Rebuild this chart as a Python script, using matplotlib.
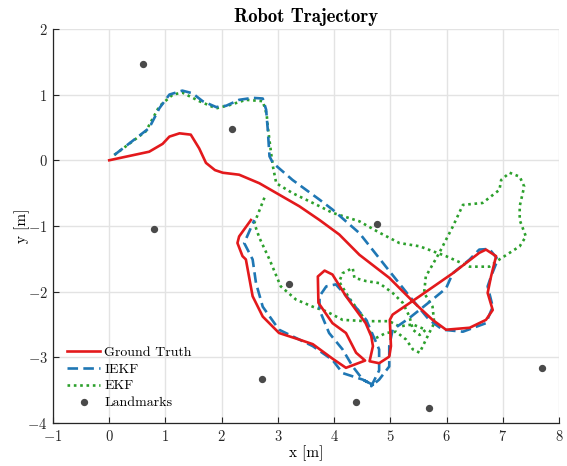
import matplotlib
matplotlib.use("Agg")
import matplotlib.pyplot as plt

plt.rcParams['font.family'] = 'serif'
plt.rcParams['font.serif'] = ['cmr10']
plt.rcParams['mathtext.fontset'] = 'cm'
plt.rcParams['axes.formatter.use_mathtext'] = True
plt.rcParams['axes.unicode_minus'] = False

# ground truth
gt_x = [0.00, 0.71, 0.95, 1.07, 1.25, 1.45, 1.60, 1.72, 1.88, 2.02, 2.31, 2.67, 3.38, 3.74,
        4.09, 4.45, 4.98, 5.40, 5.75, 5.99, 6.41, 6.70, 6.82, 6.73, 6.79, 6.88, 6.70,
        6.58, 6.11, 5.52, 5.04, 4.99, 5.01, 4.98, 4.80, 4.63, 4.69, 4.66, 4.56, 4.21,
        3.97, 3.83, 3.71, 3.72, 3.97, 4.21, 4.39, 4.55, 4.21, 3.97, 3.62, 3.38, 3.02,
        2.73, 2.55, 2.43, 2.37, 2.28, 2.31, 2.52]
gt_y = [0.00, 0.13, 0.25, 0.36, 0.41, 0.39, 0.18, -0.04, -0.15, -0.19, -0.22, -0.35,
        -0.70, -0.91, -1.13, -1.44, -1.79, -2.15, -2.43, -2.58, -2.55, -2.43, -2.28,
        -2.02, -1.77, -1.46, -1.36, -1.41, -1.72, -2.07, -2.35, -2.43, -2.83, -2.99,
        -3.09, -3.06, -2.83, -2.68, -2.48, -2.07, -1.74, -1.68, -1.77, -2.17, -2.48,
        -2.63, -2.93, -3.05, -3.16, -3.02, -2.80, -2.73, -2.63, -2.38, -2.07, -1.51,
        -1.46, -1.26, -1.16, -0.91]

# IEKF estimate
iekf_x = [0.09, 0.71, 0.89, 1.07, 1.30, 1.48, 1.66, 1.90, 2.08, 2.31, 2.55, 2.73, 2.79,
          2.82, 2.85, 2.91, 3.26, 3.74, 3.97, 4.45, 4.92, 5.34, 5.69, 5.93, 6.29, 6.70,
          6.82, 6.73, 6.79, 6.91, 6.76, 6.58, 6.41, 6.11, 5.99, 5.75, 5.34, 5.04, 4.98,
          4.98, 4.80, 4.66, 4.80, 4.80, 4.75, 4.57, 4.27, 4.03, 3.86, 3.74, 3.74, 3.91,
          4.15, 4.33, 4.51, 4.69, 4.51, 4.15, 3.97, 3.62, 3.38, 3.02, 2.73, 2.61, 2.55,
          2.40, 2.58]
iekf_y = [0.08, 0.49, 0.79, 1.00, 1.06, 1.02, 0.90, 0.81, 0.83, 0.92, 0.95, 0.94, 0.77,
          0.46, 0.06, -0.04, -0.30, -0.60, -0.75, -1.11, -1.62, -2.07, -2.43, -2.58,
          -2.61, -2.48, -2.23, -1.92, -1.77, -1.51, -1.35, -1.36, -1.51, -1.72, -1.95,
          -2.12, -2.40, -2.58, -2.83, -3.14, -3.34, -3.44, -3.20, -2.88, -2.78, -2.43,
          -2.12, -1.89, -1.92, -2.07, -2.28, -2.63, -2.88, -3.14, -3.34, -3.42, -3.34,
          -3.24, -3.04, -2.83, -2.73, -2.58, -2.23, -1.87, -1.51, -1.26, -0.91]

# EKF estimate
ekf_x = [0.09, 0.65, 0.89, 1.13, 1.30, 1.60, 1.90, 2.14, 2.43, 2.73, 2.80, 2.82, 2.88,
         2.91, 2.97, 3.26, 3.74, 3.97, 4.45, 4.80, 5.16, 5.52, 5.99, 6.41, 6.76, 6.94,
         7.30, 7.41, 7.30, 7.30, 7.38, 7.30, 7.12, 6.97, 6.94, 6.64, 6.29, 6.11, 5.87,
         5.63, 5.60, 5.75, 5.78, 5.69, 5.52, 5.40, 5.28, 5.10, 4.92, 4.69, 4.57, 4.27,
         4.09, 4.15, 4.33, 4.36, 4.57, 4.80, 5.04, 5.22, 5.34, 5.40, 5.52, 5.63, 5.40,
         5.16, 4.98, 4.57, 4.15, 3.86, 3.62, 3.32, 3.05, 2.85, 2.67, 2.58, 2.76]
ekf_y = [0.08, 0.44, 0.82, 1.00, 1.03, 0.90, 0.79, 0.84, 0.92, 0.90, 0.70, 0.51, 0.10,
         -0.09, -0.35, -0.50, -0.70, -0.80, -0.93, -1.10, -1.26, -1.31, -1.46, -1.62,
         -1.62, -1.51, -1.31, -1.16, -0.91, -0.70, -0.40, -0.25, -0.19, -0.30, -0.45,
         -0.65, -0.68, -1.01, -1.41, -1.77, -2.02, -2.23, -2.48, -2.63, -2.93, -2.88,
         -2.73, -2.61, -2.63, -2.73, -2.45, -2.10, -1.85, -1.72, -1.64, -1.79, -1.84,
         -1.87, -2.02, -2.17, -2.38, -2.58, -2.66, -2.58, -2.50, -2.53, -2.45, -2.45,
         -2.43, -2.30, -2.23, -2.12, -1.92, -1.51, -1.18, -0.96, -0.57]

lm_x = [0.60, 2.19, 0.80, 4.76, 3.20, 2.72, 4.39, 5.68, 7.69]
lm_y = [1.46, 0.48, -1.04, -0.97, -1.88, -3.33, -3.68, -3.77, -3.16]

fig = plt.figure(figsize=(5.67, 4.66), dpi=100)
ax = fig.add_axes([0.0935, 0.0923, 0.8925, 0.8457])

ax.plot(gt_x, gt_y, color='#e3191c', lw=1.9, label='Ground Truth', zorder=4)
ax.plot(iekf_x, iekf_y, color='#1f77b4', lw=1.9, ls=(0, (4, 2)), label='IEKF', zorder=3)
ax.plot(ekf_x, ekf_y, color='#2ca02c', lw=1.9, ls=(0, (1, 1.4)), label='EKF', zorder=2)
ax.scatter(lm_x, lm_y, s=18, color='#4a4a4a', label='Landmarks', zorder=5)

ax.set_xlim(-1, 8)
ax.set_ylim(-4, 2)
ax.set_xticks(range(-1, 9))
ax.set_yticks(range(-4, 3))
ax.grid(True, color='#e3e3e3', lw=1)
ax.set_axisbelow(True)
for s in ['top', 'right']:
    ax.spines[s].set_visible(False)
for s in ['left', 'bottom']:
    ax.spines[s].set_color('#262626')
    ax.spines[s].set_linewidth(0.9)
ax.tick_params(direction='in', length=4, width=0.8, colors='#262626', labelsize=10.5,
               pad=4)

ax.set_title('Robot Trajectory', fontfamily='cmb10', fontsize=13.5, pad=5)
ax.set_xlabel('x [m]', fontsize=11, labelpad=1)
ax.set_ylabel('y [m]', fontsize=11)
ax.yaxis.set_label_coords(-0.046, 0.5)

ax.legend(loc='lower left', bbox_to_anchor=(0.0, 0.0), frameon=False, fontsize=10,
          handlelength=2.4, labelspacing=0.28, handletextpad=0.3, borderaxespad=0.6)

fig.savefig('out.png', dpi=100)
